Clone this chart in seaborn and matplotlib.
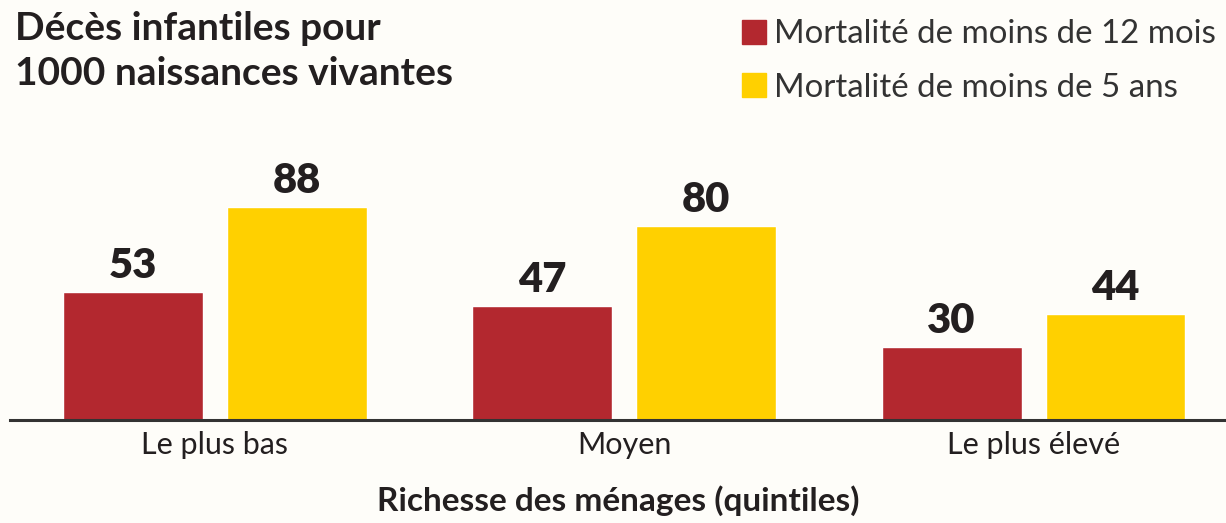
"""Infant mortality by household wealth quintile - grouped bar chart."""
import matplotlib
matplotlib.use("Agg")
import matplotlib.pyplot as plt
import pandas as pd
import seaborn as sns

quintiles = ["Le plus bas", "Moyen", "Le plus élevé"]
series = ["Mortalité de moins de 12 mois", "Mortalité de moins de 5 ans"]
under_12_months = [53, 47, 30]
under_5_years = [88, 80, 44]

colors = ["#B3282F", "#FFD000"]
bg = "#FEFDF9"
ink = "#231F20"

df = pd.DataFrame({
    "quintile": quintiles * 2,
    "series": [series[0]] * 3 + [series[1]] * 3,
    "value": under_12_months + under_5_years,
})

sns.set_theme(style="white")
plt.rcParams["font.family"] = ["Lato", "DejaVu Sans"]

fig = plt.figure(figsize=(12.26, 5.23), dpi=100, facecolor=bg)
ax = fig.add_axes([10 / 1226, 103 / 523, 1216 / 1226, 242 / 523])
ax.set_facecolor(bg)

sns.barplot(data=df, x="quintile", y="value", hue="series", order=quintiles,
            hue_order=series, palette=colors, width=0.80, gap=0.146,
            saturation=1, legend=False, ax=ax)

for cont in ax.containers:
    ax.bar_label(cont, padding=5, fontsize=30, fontweight="heavy", color=ink)

ax.set_xlim(-0.5, 2.47)
ax.set_ylim(0, 100)
ax.set_yticks([])
ax.set_ylabel("")
ax.set_xlabel("Richesse des ménages (quintiles)", fontsize=24, fontweight="bold",
              color=ink, labelpad=19)
ax.tick_params(axis="x", length=0, labelsize=22, labelcolor=ink, pad=8)
for side in ["top", "left", "right"]:
    ax.spines[side].set_visible(False)
ax.spines["bottom"].set_color("#333333")
ax.spines["bottom"].set_linewidth(2.2)

fig.text(15 / 1226, 1 - 40 / 523, "Décès infantiles pour",
         fontsize=28, fontweight="bold", color=ink, va="baseline")
fig.text(15 / 1226, 1 - 85 / 523, "1000 naissances vivantes",
         fontsize=28, fontweight="bold", color=ink, va="baseline")

handles = [plt.Rectangle((0, 0), 1, 1, color=c) for c in colors]
fig.legend(handles, series, loc="upper left", bbox_to_anchor=(716 / 1226, 1 + 7 / 523),
           frameon=False, fontsize=23.8, handlelength=0.72, handleheight=0.72,
           handletextpad=0.22, labelspacing=0.7, borderpad=0.3,
           labelcolor="#333333")

fig.savefig("out.png", dpi=100, facecolor=bg)
